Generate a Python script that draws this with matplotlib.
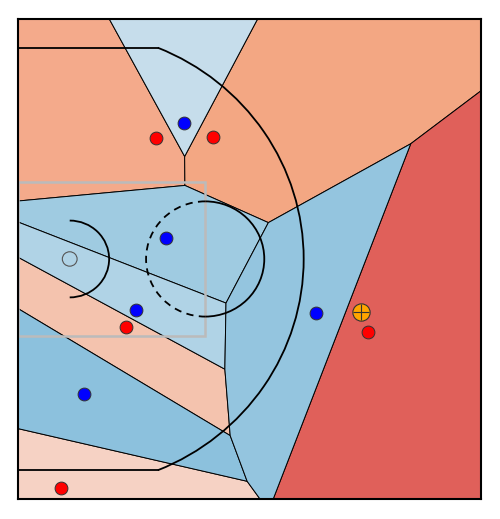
import numpy as np
import matplotlib
matplotlib.use("Agg")
import matplotlib.pyplot as plt
from matplotlib.patches import Arc, Circle, Rectangle, Polygon

# Court size (ft): half court, baseline on the left
COURT_X = 47.0
COURT_Y = 50.0

# Player positions (ft)
red_x = [14.0, 19.8, 11.0, 35.5, 4.4]
red_y = [37.65, 37.7, 17.9, 17.4, 1.15]
blue_x = [16.9, 15.0, 12.0, 6.7, 30.2]
blue_y = [39.2, 27.2, 19.7, 10.9, 19.4]
ball_x = [34.8]
ball_y = [19.5]

# cell colours
red_colors = ["#f4aa8b", "#f3a783", "#f4c3ae", "#e0605a", "#f6d2c4"]
blue_colors = ["#c6ddeb", "#9fcbe1", "#b0d3e6", "#8cc1dd", "#94c5df"]


def clip(poly, p, q):
    # keep the part of poly closer to p than to q
    n = q - p
    c = (q @ q - p @ p) / 2.0
    out = []
    for i in range(len(poly)):
        a = poly[i]
        b = poly[(i + 1) % len(poly)]
        fa = a @ n - c
        fb = b @ n - c
        if fa <= 0:
            out.append(a)
        if fa * fb < 0:
            t = fa / (fa - fb)
            out.append(a + t * (b - a))
    return out


def voronoi_cells(pts):
    box = [np.array(v, float) for v in [(0, 0), (COURT_X, 0), (COURT_X, COURT_Y), (0, COURT_Y)]]
    cells = []
    for i, p in enumerate(pts):
        poly = box
        for j, q in enumerate(pts):
            if i != j:
                poly = clip(poly, p, q)
        cells.append(np.array(poly))
    return cells


pts = np.array(list(zip(red_x + blue_x, red_y + blue_y)))
cells = voronoi_cells(pts)
colors = red_colors + blue_colors

fig = plt.figure(figsize=(5.0, 5.19), dpi=100)
ax = fig.add_axes([0.036, 0.0385, 0.926, 0.925])

for cell, col in zip(cells, colors):
    ax.add_patch(Polygon(cell, closed=True, facecolor=col, edgecolor="black", lw=0.7, zorder=1))

# court lines
lc = "black"
ax.add_patch(Rectangle((0, 17), 19, 16, fill=False, edgecolor="#bbbbbb", lw=1.8, zorder=2))
ax.add_patch(Circle((5.25, 25), 0.75, fill=False, edgecolor="#555555", lw=0.8, zorder=2))
ax.add_patch(Arc((5.25, 25), 8, 8, theta1=-90, theta2=90, color=lc, lw=1.3, zorder=2))
ax.add_patch(Arc((19, 25), 12, 12, theta1=-90, theta2=90, color=lc, lw=1.3, zorder=2))
ax.add_patch(Arc((19, 25), 12, 12, theta1=90, theta2=270, color=lc, lw=1.3, ls=(0, (4, 3)), zorder=2))
ang = np.degrees(np.arcsin(22 / 23.75))
ax.add_patch(Arc((5.25, 25), 47.5, 47.5, theta1=-ang, theta2=ang, color=lc, lw=1.3, zorder=2))
x_corner = 5.25 + 23.75 * np.cos(np.radians(ang))
ax.plot([0, x_corner], [3, 3], color=lc, lw=1.3, zorder=2)
ax.plot([0, x_corner], [47, 47], color=lc, lw=1.3, zorder=2)

# players and ball
ax.scatter(red_x, red_y, s=85, c="red", edgecolors="#333333", linewidths=0.7, zorder=3)
ax.scatter(blue_x, blue_y, s=85, c="blue", edgecolors="#333333", linewidths=0.7, zorder=3)
ax.scatter(ball_x, ball_y, s=155, c="orange", edgecolors="#333333", linewidths=0.8, zorder=4)
ax.scatter(ball_x, ball_y, s=140, marker="+", c="#333333", linewidths=0.8, zorder=5)

ax.set_xlim(0, COURT_X)
ax.set_ylim(0, COURT_Y)
ax.set_xticks([])
ax.set_yticks([])
for sp in ax.spines.values():
    sp.set_linewidth(1.5)

fig.savefig("out.png", dpi=100)
